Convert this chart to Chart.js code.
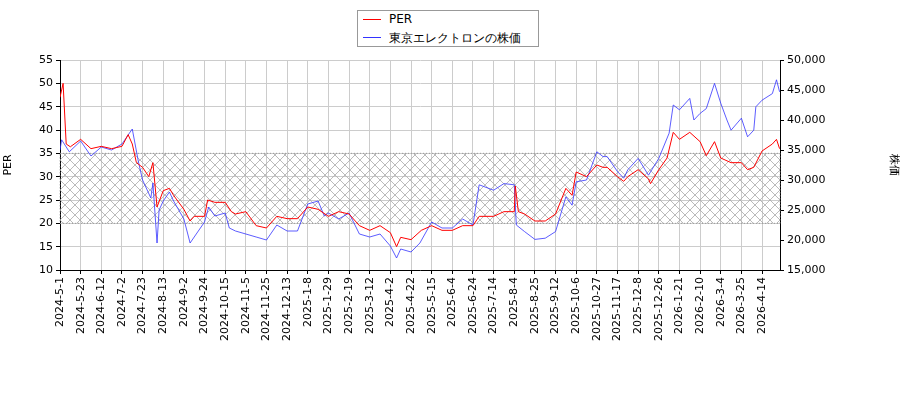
<!DOCTYPE html>
<html>
<head>
<meta charset="utf-8">
<script src="https://cdn.jsdelivr.net/npm/chart.js@4"></script>
<style>
  body { margin: 0; background: #fff; }
  #wrap { position: relative; width: 900px; height: 400px; }
  #legend { position: absolute; left: 357px; top: 10px; width: 182px; height: 37px; border: 1px solid #999;
    font: 12px 'DejaVu Sans'; background: #fff; box-sizing: border-box; }
  #legend div { position: absolute; left: 31px; }
  #legend span { position: absolute; left: -26px; top: 7px; width: 18px; height: 0; border-top: 1.5px solid; }
</style>
</head>
<body>
<div id="wrap">
  <canvas id="c" width="900" height="400"></canvas>
  <div id="legend">
    <div style="top:1px"><span style="border-color:#ff0000"></span>PER</div>
    <div style="top:19px"><span style="border-color:#3333ff"></span>東京エレクトロンの株価</div>
  </div>
</div>
<script>
// tick labels (every 15 trading days)
const tickLabels = ['2024-5-1','2024-5-23','2024-6-12','2024-7-2','2024-7-23','2024-8-13','2024-9-2','2024-9-24',
  '2024-10-15','2024-11-5','2024-11-25','2024-12-13','2025-1-8','2025-1-29','2025-2-19','2025-3-12','2025-4-2',
  '2025-4-22','2025-5-15','2025-6-4','2025-6-24','2025-7-14','2025-8-4','2025-8-25','2025-9-12','2025-10-6',
  '2025-10-27','2025-11-17','2025-12-8','2025-12-26','2026-1-21','2026-2-10','2026-3-4','2026-3-25','2026-4-14'];

// positions in tick units, and values
const perPos = [0,0.15,0.3,0.5,1,1.5,2,2.5,3,3.3,3.5,3.7,4,4.3,4.5,4.7,5,5.3,5.5,6,6.3,6.5,7,7.15,7.5,8,8.3,8.5,9,9.5,
  10,10.5,11,11.5,12,12.5,13,13.5,14,14.5,15,15.5,16,16.3,16.5,17,17.5,18,18.5,19,19.5,20,20.3,21,21.5,22,22.05,22.2,
  22.5,23,23.5,24,24.5,24.8,25,25.5,26,26.3,26.5,27,27.3,27.5,28,28.5,28.6,29,29.4,29.7,30,30.5,31,31.3,31.7,32,32.5,
  33,33.3,33.6,34,34.5,34.7,34.85];
const perVals = [47,50,37,36.4,38,36,36.5,36,36.5,39,37,33,32,30,33,23.5,27,27.5,26,23,20.5,21.5,21.5,25,24.5,24.5,
  22.5,22,22.5,19.5,19,21.5,21,21,23.5,23,21.5,22.5,22,19.5,18.5,19.5,18,15,17,16.5,18.5,19.5,18.5,18.5,19.5,19.5,
  21.5,21.5,22.5,22.5,28,22.5,22,20.5,20.5,22,27.5,26,31,30,32.5,32,32,30,29,30,31.5,29.5,28.5,31.5,34,39.5,38,39.5,
  37.5,34.5,37.5,34,33,33,31.5,32,35.5,37,38,36];

const pricePos = [0,0.08,0.45,1,1.5,2,2.5,3,3.5,3.8,4,4.4,4.5,4.7,4.8,5,5.3,5.5,6,6.3,6.6,7,7.2,7.5,8,8.2,8.5,9,9.5,
  10,10.5,11,11.5,12,12.5,12.8,13,13.5,14,14.5,15,15.5,16,16.3,16.5,17,17.43,18,18.5,19,19.5,20,20.3,21,21.5,22,22.1,
  22.5,23,23.5,24,24.5,24.8,25,25.5,26,26.3,26.5,27,27.3,27.5,28,28.5,29,29.5,29.7,30,30.5,30.7,31,31.3,31.7,32,32.3,
  32.5,33,33.3,33.6,33.7,34,34.5,34.7,34.85];
const priceVals = [35000,36700,34700,36500,34000,35500,35000,36000,38500,33000,30000,27000,29500,19500,25000,26500,
  28000,26500,23500,19500,21000,23000,25500,24000,24500,22000,21500,21000,20500,20000,22500,21500,21500,26000,26500,
  24000,24500,23500,24500,21000,20500,21000,19000,17000,18500,18000,19500,23000,22000,22000,23500,22500,29200,28300,
  29400,29200,22500,21400,20100,20300,21400,27200,25800,29700,30000,34700,33900,33900,31400,30300,31700,33600,30800,
  33600,37800,42500,41700,43600,40000,41100,41900,46100,42800,40000,38300,40300,37200,38300,42200,43300,44400,46700,44700];

function hatchPattern(ctx) {
  const p = document.createElement('canvas');
  p.width = 10; p.height = 10;
  const g = p.getContext('2d');
  g.strokeStyle = '#aaaaaa'; g.lineWidth = 0.8;
  g.beginPath();
  g.moveTo(0, 0); g.lineTo(10, 10);
  g.moveTo(10, 0); g.lineTo(0, 10);
  g.stroke();
  return ctx.createPattern(p, 'repeat');
}

const hatchBand = {
  id: 'hatchBand',
  beforeDatasetsDraw(chart) {
    const { ctx, chartArea, scales } = chart;
    const top = scales.y.getPixelForValue(35), bottom = scales.y.getPixelForValue(20);
    ctx.save();
    ctx.fillStyle = hatchPattern(ctx);
    ctx.fillRect(chartArea.left, top, chartArea.right - chartArea.left, bottom - top);
    ctx.setLineDash([1, 2]);
    ctx.strokeStyle = '#999';
    ctx.strokeRect(chartArea.left, top, chartArea.right - chartArea.left, bottom - top);
    ctx.restore();
  }
};

const font = { family: 'DejaVu Sans', size: 11 };

new Chart(document.getElementById('c').getContext('2d'), {
  type: 'line',
  data: {
    datasets: [{
      label: 'PER',
      data: perPos.map((x, i) => ({ x, y: perVals[i] })),
      borderColor: '#ff0000', borderWidth: 1, pointRadius: 0, yAxisID: 'y'
    }, {
      label: '東京エレクトロンの株価',
      data: pricePos.map((x, i) => ({ x, y: priceVals[i] })),
      borderColor: '#3333ff', borderWidth: 0.8, pointRadius: 0, yAxisID: 'y2'
    }]
  },
  options: {
    responsive: false,
    animation: false,
    layout: { padding: { top: 60, left: 0, right: 0, bottom: 0 } },
    plugins: { legend: { display: false }, tooltip: { enabled: false } },
    scales: {
      x: {
        type: 'linear', min: 0, max: 34.87,
        afterFit(s) { s.height = 130; },
        afterBuildTicks(s) { s.ticks = tickLabels.map((_, i) => ({ value: i })); },
        ticks: { font, color: '#000', maxRotation: 90, minRotation: 90, autoSkip: false,
          callback: v => tickLabels[v] },
        grid: { color: '#cccccc', tickColor: '#000', tickLength: 4 },
        border: { color: '#000' }
      },
      y: {
        position: 'left', min: 10, max: 55,
        afterFit(s) { s.width = 60; },
        ticks: { stepSize: 5, font, color: '#000' },
        grid: { color: '#cccccc', tickColor: '#000', tickLength: 4 },
        border: { color: '#000' },
        title: { display: true, text: 'PER', font, color: '#000', padding: 2 }
      },
      y2: {
        position: 'right', min: 15000, max: 50000,
        afterFit(s) { s.width = 120; },
        ticks: { stepSize: 5000, font, color: '#000' },
        grid: { drawOnChartArea: false, tickColor: '#000', tickLength: 4 },
        border: { color: '#000' },
        title: { display: true, text: '株価', font, color: '#000', padding: { top: 0, bottom: 50 } }
      }
    }
  },
  plugins: [hatchBand]
});
</script>
</body>
</html>
